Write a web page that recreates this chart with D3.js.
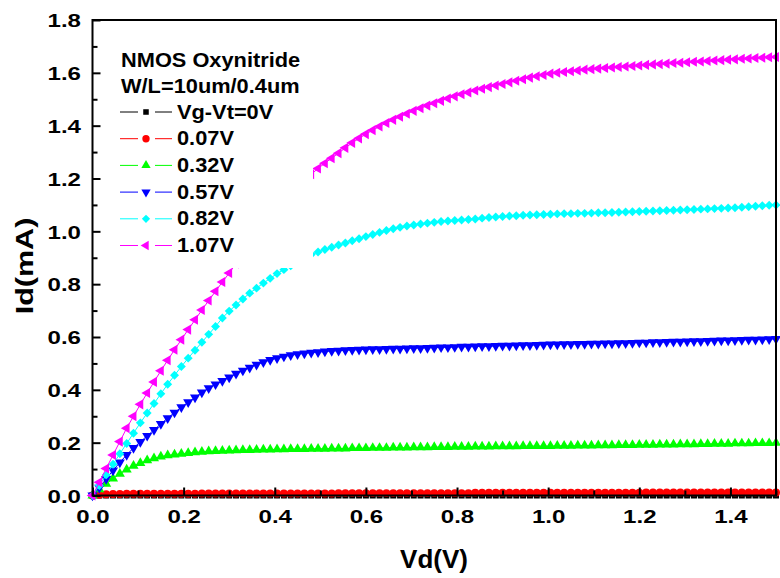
<!DOCTYPE html>
<html><head><meta charset="utf-8">
<script src="https://cdn.jsdelivr.net/npm/d3@7"></script>
<style>
html,body{margin:0;padding:0;background:#fff;}
svg text{font-family:"Liberation Sans",Arial,sans-serif;font-weight:bold;fill:#000;}
</style></head>
<body><svg id="c" width="780" height="578"></svg>
<script>
const vd = [0.000,0.015,0.030,0.045,0.060,0.075,0.090,0.105,0.120,0.135,
 0.150,0.165,0.180,0.195,0.210,0.225,0.240,0.255,0.270,0.285,
 0.300,0.315,0.330,0.345,0.360,0.375,0.390,0.405,0.420,0.435,
 0.450,0.465,0.480,0.495,0.510,0.525,0.540,0.555,0.570,0.585,
 0.600,0.615,0.630,0.645,0.660,0.675,0.690,0.705,0.720,0.735,
 0.750,0.765,0.780,0.795,0.810,0.825,0.840,0.855,0.870,0.885,
 0.900,0.915,0.930,0.945,0.960,0.975,0.990,1.005,1.020,1.035,
 1.050,1.065,1.080,1.095,1.110,1.125,1.140,1.155,1.170,1.185,
 1.200,1.215,1.230,1.245,1.260,1.275,1.290,1.305,1.320,1.335,
 1.350,1.365,1.380,1.395,1.410,1.425,1.440,1.455,1.470,1.485,
 1.500];

const id000 = [0,0,0,0,0,0,0,0,0,0, 0,0,0,0,0,0,0,0,0,0, 0,0,0,0,0,0,0,0,0,0,
 0,0,0,0,0,0,0,0,0,0, 0,0,0,0,0,0,0,0,0,0, 0,0,0,0,0,0,0,0,0,0,
 0,0,0,0,0,0,0,0,0,0, 0,0,0,0,0,0,0,0,0,0, 0,0,0,0,0,0,0,0,0,0,
 0,0,0,0,0,0,0,0,0,0, 0];

const id007 = [0.000,0.003,0.005,0.006,0.006,0.007,0.007,0.007,0.007,0.007,
 0.007,0.007,0.007,0.007,0.007,0.007,0.008,0.008,0.008,0.008,
 0.008,0.008,0.008,0.008,0.008,0.008,0.008,0.008,0.008,0.008,
 0.008,0.008,0.008,0.008,0.008,0.008,0.009,0.009,0.009,0.009,
 0.009,0.009,0.009,0.009,0.009,0.009,0.009,0.009,0.009,0.009,
 0.009,0.009,0.009,0.009,0.009,0.009,0.010,0.010,0.010,0.010,
 0.010,0.010,0.010,0.010,0.010,0.010,0.010,0.010,0.010,0.010,
 0.010,0.010,0.010,0.010,0.010,0.010,0.010,0.010,0.010,0.010,
 0.010,0.011,0.011,0.011,0.011,0.011,0.011,0.011,0.011,0.011,
 0.011,0.011,0.011,0.011,0.011,0.011,0.011,0.011,0.011,0.011,
 0.011];

const id032 = [0.000,0.023,0.044,0.064,0.082,0.098,0.112,0.123,0.133,0.141,
 0.147,0.152,0.155,0.158,0.161,0.163,0.165,0.167,0.168,0.169,
 0.170,0.171,0.172,0.172,0.173,0.174,0.174,0.175,0.175,0.176,
 0.176,0.176,0.177,0.177,0.177,0.178,0.178,0.178,0.179,0.179,
 0.179,0.180,0.180,0.180,0.181,0.181,0.181,0.182,0.182,0.182,
 0.183,0.183,0.183,0.184,0.184,0.184,0.185,0.185,0.185,0.186,
 0.186,0.186,0.186,0.187,0.187,0.187,0.187,0.187,0.188,0.188,
 0.188,0.189,0.189,0.189,0.190,0.190,0.190,0.191,0.191,0.191,
 0.192,0.192,0.192,0.193,0.193,0.193,0.194,0.194,0.194,0.195,
 0.195,0.196,0.196,0.196,0.197,0.197,0.197,0.198,0.198,0.198,
 0.199];

const id057 = [0.000,0.030,0.063,0.095,0.125,0.154,0.180,0.203,0.226,0.248,
 0.271,0.293,0.314,0.334,0.353,0.371,0.390,0.406,0.421,0.434,
 0.447,0.461,0.473,0.484,0.495,0.505,0.513,0.520,0.526,0.531,
 0.535,0.538,0.541,0.543,0.545,0.547,0.548,0.550,0.551,0.552,
 0.553,0.554,0.554,0.555,0.556,0.556,0.557,0.558,0.558,0.559,
 0.560,0.561,0.561,0.562,0.563,0.563,0.564,0.565,0.565,0.566,
 0.567,0.567,0.568,0.569,0.569,0.570,0.571,0.572,0.572,0.573,
 0.573,0.574,0.574,0.575,0.575,0.576,0.576,0.577,0.577,0.578,
 0.579,0.579,0.580,0.580,0.581,0.582,0.582,0.583,0.584,0.584,
 0.585,0.586,0.587,0.587,0.588,0.589,0.590,0.590,0.591,0.592,
 0.593];

const id082 = [0.000,0.038,0.078,0.118,0.158,0.197,0.236,0.275,0.312,0.348,
 0.385,0.421,0.455,0.488,0.520,0.550,0.580,0.610,0.640,0.672,
 0.698,0.721,0.744,0.766,0.785,0.804,0.822,0.840,0.855,0.870,
 0.885,0.899,0.912,0.922,0.931,0.940,0.948,0.956,0.964,0.972,
 0.980,0.988,0.996,1.003,1.010,1.015,1.020,1.024,1.028,1.031,
 1.034,1.037,1.039,1.041,1.043,1.045,1.047,1.050,1.052,1.054,
 1.056,1.058,1.059,1.061,1.062,1.063,1.064,1.065,1.066,1.067,
 1.067,1.068,1.068,1.069,1.070,1.070,1.071,1.072,1.073,1.074,
 1.075,1.076,1.077,1.078,1.079,1.080,1.081,1.082,1.083,1.084,
 1.085,1.086,1.087,1.088,1.089,1.091,1.093,1.095,1.097,1.099,
 1.100];

const id107 = [0.000,0.050,0.102,0.153,0.204,0.255,0.300,0.345,0.388,0.430,
 0.472,0.512,0.552,0.590,0.628,0.665,0.702,0.738,0.773,0.808,
 0.842,0.878,0.913,0.947,0.981,1.014,1.046,1.077,1.107,1.136,
 1.164,1.191,1.216,1.238,1.258,1.277,1.296,1.316,1.335,1.352,
 1.368,1.383,1.397,1.410,1.422,1.434,1.445,1.456,1.466,1.476,
 1.485,1.494,1.503,1.511,1.519,1.526,1.533,1.540,1.546,1.552,
 1.558,1.564,1.570,1.576,1.582,1.587,1.592,1.597,1.600,1.603,
 1.606,1.609,1.612,1.614,1.616,1.618,1.620,1.622,1.624,1.626,
 1.628,1.630,1.632,1.633,1.635,1.637,1.638,1.640,1.642,1.643,
 1.645,1.647,1.648,1.650,1.651,1.653,1.654,1.656,1.657,1.659,
 1.660];

const seriesLabels = ["Vg-Vt=0V","0.07V","0.32V","0.57V","0.82V","1.07V"];
const seriesColors = ["#000000","#ff0000","#00ff00","#0000ff","#00ffff","#ff00ff"];
const seriesMarkers = ["square","circle","triUp","triDown","diamond","triLeft"];
const seriesValues = [id000,id007,id032,id057,id082,id107];

const legendTitle = ["NMOS Oxynitride","W/L=10um/0.4um"];
const xTicks = [0.0,0.2,0.4,0.6,0.8,1.0,1.2,1.4];
const xMinor = [0.1,0.3,0.5,0.7,0.9,1.1,1.3,1.5];
const yTicks = [0.0,0.2,0.4,0.6,0.8,1.0,1.2,1.4,1.6,1.8];
const yMinor = [0.1,0.3,0.5,0.7,0.9,1.1,1.3,1.5,1.7];
const xTitle = "Vd(V)", yTitle = "Id(mA)";

const svg = d3.select("#c");
const L = 92.5, R = 776, T = 20, B = 495.5;
const x = d3.scaleLinear().domain([0,1.5]).range([L,R]);
const y = d3.scaleLinear().domain([0,1.8]).range([B,T]);

function markerPath(kind, k){
  k = k || 1;
  switch(kind){
    case "square": return d3.symbol(d3.symbolSquare, 36*k)();
    case "circle": return d3.symbol(d3.symbolCircle, 50*k)();
    case "diamond": return d3.symbol(d3.symbolSquare, 40*k)();
    default: return d3.symbol(d3.symbolTriangle, 44*k)();
  }
}
function markerRot(kind){
  return {diamond:45, triDown:180, triLeft:-90}[kind] || 0;
}

// data
const plot = svg.append("g");
seriesValues.forEach((vals,i)=>{
  const pts = vd.map((v,j)=>[v,vals[j]]);
  const g = plot.append("g");
  g.append("path").datum(pts)
    .attr("fill","none").attr("stroke",seriesColors[i]).attr("stroke-width",1)
    .attr("d", d3.line().x(d=>x(d[0])).y(d=>y(d[1])));
  const p = markerPath(seriesMarkers[i]), r = markerRot(seriesMarkers[i]);
  g.selectAll("path.m").data(pts).join("path").attr("class","m")
    .attr("d",p).attr("fill",seriesColors[i])
    .attr("transform",d=>`translate(${x(d[0])},${y(d[1])}) rotate(${r})`);
});

// legend background (covers data)
svg.append("rect").attr("x",97).attr("y",23).attr("width",216).attr("height",245).attr("fill","#fff");

// frame
svg.append("rect").attr("x",L).attr("y",T).attr("width",R-L).attr("height",B-T)
  .attr("fill","none").attr("stroke","#000").attr("stroke-width",2);

// axes
const xa = svg.append("g").attr("transform",`translate(0,${B})`)
  .call(d3.axisBottom(x).tickValues(xTicks).tickSize(-8).tickFormat(d3.format(".1f")));
svg.append("g").attr("transform",`translate(0,${B})`)
  .call(d3.axisBottom(x).tickValues(xMinor).tickSize(-5).tickFormat(""));
const ya = svg.append("g").attr("transform",`translate(${L},0)`)
  .call(d3.axisLeft(y).tickValues(yTicks).tickSize(-8).tickFormat(d3.format(".1f")));
svg.append("g").attr("transform",`translate(${L},0)`)
  .call(d3.axisLeft(y).tickValues(yMinor).tickSize(-5).tickFormat(""));
svg.selectAll(".domain").remove();
svg.selectAll(".tick line").attr("stroke","#000").attr("stroke-width",2);
xa.selectAll("text").attr("y",null).attr("dy",null).attr("x",null)
  .attr("text-anchor","middle").attr("font-size",18.5)
  .attr("transform","translate(0,27.5) scale(1.3,1)");
ya.selectAll("text").attr("x",null).attr("dy",null)
  .attr("text-anchor","end").attr("font-size",18.5)
  .attr("transform","translate(-11.5,6.7) scale(1.3,1)");

// titles
svg.append("text").attr("text-anchor","middle").attr("font-size",26)
  .attr("transform","translate(434,568)").text(xTitle);
svg.append("text").attr("text-anchor","middle").attr("font-size",23.5)
  .attr("transform","translate(33,266) rotate(-90) scale(1.3,1)").text(yTitle);

// legend
const lg = svg.append("g");
const lfs = 20, lsx = 1.09;
legendTitle.forEach((t,i)=>{
  lg.append("text").attr("font-size",lfs)
    .attr("transform",`translate(121,${66.5+i*26.5}) scale(${lsx},1)`).text(t);
});
seriesLabels.forEach((t,i)=>{
  const by = 118.5 + i*26.7, cy = by - 6.5;
  lg.append("line").attr("x1",120).attr("x2",138).attr("y1",cy).attr("y2",cy)
    .attr("stroke",seriesColors[i]).attr("stroke-width",1);
  lg.append("line").attr("x1",155).attr("x2",172).attr("y1",cy).attr("y2",cy)
    .attr("stroke",seriesColors[i]).attr("stroke-width",1);
  lg.append("path").attr("d",markerPath(seriesMarkers[i],0.85)).attr("fill",seriesColors[i])
    .attr("transform",`translate(146,${cy}) rotate(${markerRot(seriesMarkers[i])})`);
  lg.append("text").attr("font-size",lfs)
    .attr("transform",`translate(177,${by}) scale(${lsx},1)`).text(t);
});
</script></body></html>
